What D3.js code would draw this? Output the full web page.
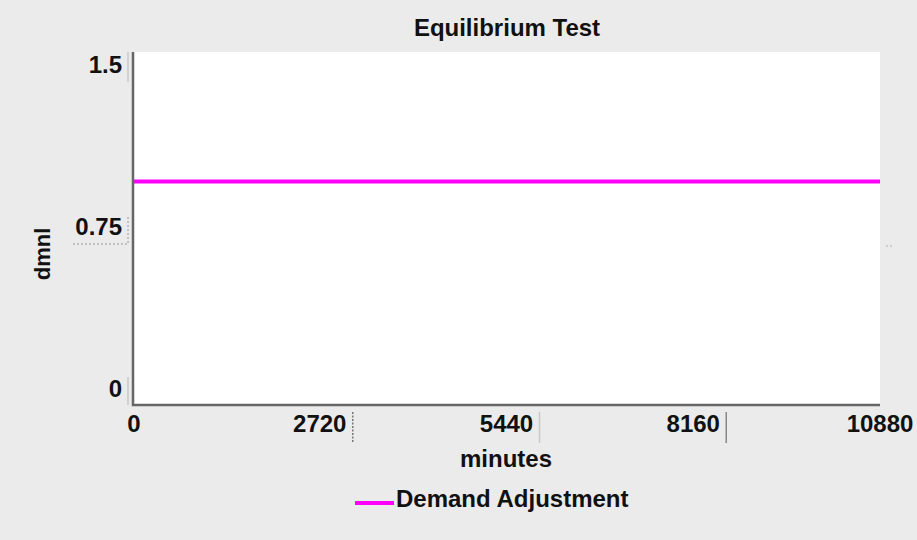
<!DOCTYPE html>
<html>
<head>
<meta charset="utf-8">
<script src="https://cdn.jsdelivr.net/npm/d3@7"></script>
<style>
  html, body { margin: 0; padding: 0; background: #ebebeb; }
  svg { display: block; }
  text { font-family: "Liberation Sans", Arial, sans-serif; font-weight: bold; fill: #111; }
</style>
</head>
<body>
<svg id="chart" width="917" height="540"></svg>
<script>
// data
const timeMinutes = [0, 2720, 5440, 8160, 10880];
const demandAdjustment = [0.95, 0.95, 0.95, 0.95, 0.95];
const xTicks = [0, 2720, 5440, 8160, 10880];
const yTicks = [0, 0.75, 1.5];
const seriesName = 'Demand Adjustment';

let svg = d3.select('#chart');
const W = 917, H = 540;
const plot = {left: 133, right: 880, top: 52, bottom: 405};

let x = d3.scaleLinear().domain([0, 10880]).range([plot.left, plot.right]);
let y = d3.scaleLinear().domain([0, 1.5]).range([plot.bottom, plot.top]);
// vensim puts the y labels a bit inside the plot range
let yLab = d3.scaleLinear().domain([0, 1.5]).range([397, 73]);

svg.append('rect').attr('width', W).attr('height', H).attr('fill', '#ebebeb');

// white plot area
svg.append('rect')
	.attr('x', plot.left).attr('y', plot.top)
	.attr('width', plot.right - plot.left).attr('height', plot.bottom - plot.top)
	.attr('fill', '#fff');

// title
svg.append('text')
	.attr('x', 507).attr('y', 36)
	.attr('text-anchor', 'middle')
	.style('font-size', '24px')
	.text('Equilibrium Test');

// y tick labels
svg.selectAll('.ylab')
	.data(yTicks)
	.enter()
	.append('text')
	.attr('class', 'ylab')
	.attr('x', 122)
	.attr('y', d => yLab(d))
	.attr('text-anchor', 'end')
	.style('font-size', '24px')
	.text(d => d);

// little marks beside the y labels
svg.append('line').attr('x1', 128).attr('x2', 128).attr('y1', y(1.5)).attr('y2', y(1.5) + 30)
	.attr('stroke', '#c8c8c8').attr('stroke-width', 1.5);
svg.append('line').attr('x1', 128).attr('x2', 128).attr('y1', y(0) - 28).attr('y2', y(0))
	.attr('stroke', '#c8c8c8').attr('stroke-width', 1.5);
svg.append('path')
	.attr('d', 'M73,' + (yLab(0.75) + 9) + 'H128V' + (yLab(0.75) - 19))
	.attr('fill', 'none').attr('stroke', '#9a9a9a').attr('stroke-width', 1)
	.attr('stroke-dasharray', '2,2');
svg.append('line').attr('x1', 886).attr('x2', 894).attr('y1', yLab(0.75) + 11).attr('y2', yLab(0.75) + 11)
	.attr('stroke', '#b0b0b0').attr('stroke-width', 1).attr('stroke-dasharray', '2,2');

// y title
svg.append('text')
	.attr('transform', 'translate(50,254) rotate(-90)')
	.attr('text-anchor', 'middle')
	.style('font-size', '22px')
	.text('dmnl');

// x tick labels
svg.selectAll('.xlab')
	.data(xTicks)
	.enter()
	.append('text')
	.attr('class', 'xlab')
	.attr('x', d => x(d) + (d === 0 ? 1 : 0))
	.attr('y', 432)
	.attr('text-anchor', 'middle')
	.style('font-size', '24px')
	.text(d => d);

// marks after the inner x labels
const xMarkStyle = [
	{dash: '2,1.5', color: '#777'},
	{dash: null, color: '#c8c8c8'},
	{dash: null, color: '#888'}
];
xTicks.slice(1, 4).forEach(function (t, i) {
	svg.append('line')
		.attr('x1', x(t) + 33).attr('x2', x(t) + 33)
		.attr('y1', 412).attr('y2', 443)
		.attr('stroke', xMarkStyle[i].color).attr('stroke-width', 1.5)
		.attr('stroke-dasharray', xMarkStyle[i].dash);
});

// x title
svg.append('text')
	.attr('x', 506).attr('y', 467)
	.attr('text-anchor', 'middle')
	.style('font-size', '24px')
	.text('minutes');

// series
let line = d3.line()
	.x((d, i) => x(timeMinutes[i]))
	.y(d => y(d));
svg.append('path')
	.datum(demandAdjustment)
	.attr('d', line)
	.attr('fill', 'none')
	.attr('stroke', '#ff00ff')
	.attr('stroke-width', 4);

// axes lines (left + bottom)
svg.append('path')
	.attr('d', 'M' + plot.left + ',' + plot.top + 'V' + plot.bottom + 'H' + plot.right)
	.attr('fill', 'none')
	.attr('stroke', '#666')
	.attr('stroke-width', 2.5);

// legend
svg.append('line')
	.attr('x1', 355).attr('x2', 394)
	.attr('y1', 503).attr('y2', 503)
	.attr('stroke', '#ff00ff').attr('stroke-width', 4);
svg.append('text')
	.attr('x', 396).attr('y', 507)
	.style('font-size', '24px')
	.text(seriesName);
</script>
</body>
</html>
